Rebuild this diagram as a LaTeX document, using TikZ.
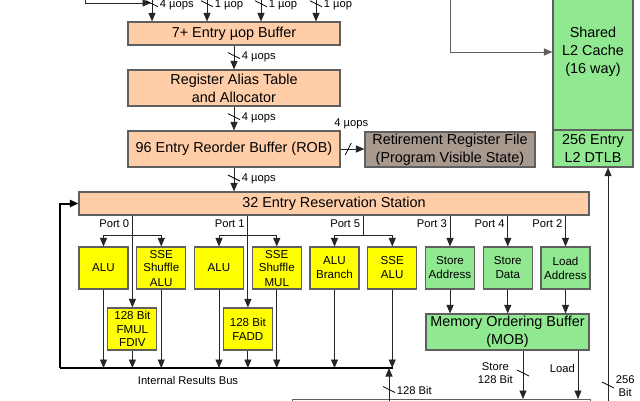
\documentclass[tikz,border=0pt]{standalone}
\usepackage{fontspec}
\setmainfont{Liberation Sans}
\usetikzlibrary{arrows.meta,calc}

\definecolor{peach}{RGB}{255,206,168}
\definecolor{unityellow}{RGB}{255,255,0}
\definecolor{memgreen}{RGB}{144,232,144}
\definecolor{retiregray}{RGB}{168,153,143}
\definecolor{edgegray}{RGB}{95,95,95}

\newcommand{\bigtxt}{\fontsize{14.4}{18}\selectfont}
\newcommand{\midtxt}{\fontsize{11.6}{14}\selectfont}
\newcommand{\smalltxt}{\fontsize{11.2}{13}\selectfont}
% slash mark across a bundle of wires, with its width
\newcommand{\wirecount}[2]{\draw[tick] ([shift={(-6,-3)}]#1) -- ([shift={(6,3)}]#1) node[wirelabel] {#2};}

\tikzset{
  block/.style={draw=edgegray, line width=1.1pt, inner sep=0pt, align=center},
  frontbox/.style={block, fill=peach, minimum width=212pt, font=\bigtxt},
  execbox/.style={block, fill=unityellow, minimum width=49pt, minimum height=42pt, font=\midtxt},
  memunit/.style={block, fill=memgreen, minimum width=49pt, minimum height=42pt, font=\midtxt},
  link/.style={draw=black!85, line width=0.9pt, ->},
  plain/.style={draw=black!85, line width=0.9pt},
  feed/.style={draw=edgegray, line width=1pt, ->},
  busline/.style={draw=black, line width=2pt},
  tick/.style={draw=black, line width=0.8pt},
  wirelabel/.style={anchor=west, yshift=2pt, inner sep=1.5pt, align=center, font=\smalltxt},
  portlabel/.style={anchor=east, xshift=-2pt, inner sep=1pt, font=\smalltxt}
}

\begin{document}
\begin{tikzpicture}[x=1pt, y=-1pt, >={Triangle[length=8.5pt,width=7pt]}]
  \useasboundingbox (0,0) rectangle (640,400);
  \clip (0,0) rectangle (640,400);

  % front end
  \node[frontbox, minimum height=23pt] (uopbuf) at (234,33.5) {7+ Entry µop Buffer};
  \node[frontbox, minimum height=36pt] (rat) at (234,88) {Register Alias Table\\and Allocator};
  \node[frontbox, minimum height=36pt] (rob) at (234,149) {96 Entry Reorder Buffer (ROB)};
  \node[block, fill=retiregray, minimum width=170pt, minimum height=35pt, font=\bigtxt] (rrf) at (450,149.5) {Retirement Register File\\(Program Visible State)};
  \node[block, fill=peach, minimum width=510pt, minimum height=23pt, font=\bigtxt] (rs) at (334,203.5) {32 Entry Reservation Station};

  % L2
  \node[block, fill=memgreen, minimum width=80pt, minimum height=156pt, font=\bigtxt] (l2) at (593,52) {Shared\\L2 Cache\\(16 way)};
  \node[block, fill=memgreen, minimum width=80pt, minimum height=37pt, font=\bigtxt] (dtlb) at (593,148.5) {256 Entry\\L2 DTLB};

  % execution units
  \node[execbox] (alu0) at (103.5,268) {ALU};
  \node[execbox] (shufalu) at (161.25,268) {SSE\\Shuffle\\ALU};
  \node[execbox] (alu1) at (219,268) {ALU};
  \node[execbox] (shufmul) at (276.75,268) {SSE\\Shuffle\\MUL};
  \node[execbox] (alubr) at (334.5,268) {ALU\\Branch};
  \node[execbox] (ssealu) at (392.25,268) {SSE\\ALU};
  \node[memunit] (staddr) at (450,268) {Store\\Address};
  \node[memunit] (stdata) at (507.75,268) {Store\\Data};
  \node[memunit] (ldaddr) at (565.5,268) {Load\\Address};
  \node[execbox, font=\fontsize{11.6}{13.5}\selectfont] (fmul) at (132.4,329) {128 Bit\\FMUL\\FDIV};
  \node[execbox] (fadd) at (247.9,329) {128 Bit\\FADD};
  \node[block, fill=memgreen, minimum width=163pt, minimum height=36pt, font=\bigtxt] (mob) at (507.5,332) {Memory Ordering Buffer\\(MOB)};
  \node[block, fill=white, minimum width=298pt, minimum height=30pt, anchor=north west] (dcache) at (292,399) {};

  % incoming uops
  \coordinate (dec0) at (152,-8);
  \coordinate (dec1) at (207,-8);
  \coordinate (dec2) at (261,-8);
  \coordinate (dec3) at (316,-8);
  \coordinate (loopin) at (85,-8);
  \coordinate (merge) at (151,3);
  \draw[link] (loopin) |- (merge);
  \draw[link] (dec0) -- coordinate[pos=.4] (w0) (dec0 |- uopbuf.north);
  \draw[link] (dec1) -- coordinate[pos=.4] (w1) (dec1 |- uopbuf.north);
  \draw[link] (dec2) -- coordinate[pos=.4] (w2) (dec2 |- uopbuf.north);
  \draw[link] (dec3) -- coordinate[pos=.4] (w3) (dec3 |- uopbuf.north);
  \wirecount{w0}{4 µops}
  \wirecount{w1}{1 µop}
  \wirecount{w2}{1 µop}
  \wirecount{w3}{1 µop}

  % down the pipeline
  \draw[link] (uopbuf.south) -- coordinate[pos=.42] (w4) (rat.north);
  \draw[link] (rat.south) -- coordinate[pos=.42] (w5) (rob.north);
  \draw[link] (rob.south) -- coordinate[pos=.44] (w6) (rob.south |- rs.north);
  \wirecount{w4}{4 µops}
  \wirecount{w5}{4 µops}
  \wirecount{w6}{4 µops}

  % retirement
  \draw[link] (rob.east) -- coordinate[pos=.32] (wr) (rob.east -| rrf.west);
  \draw[tick] ([shift={(-3,6)}]wr) -- ([shift={(3,-6)}]wr);
  \node[font=\smalltxt] (retcount) at ([shift={(3,-25)}]wr) {4 µops};

  % L2 feed
  \coordinate (l2feed) at (450,-8);
  \draw[feed] (l2feed) |- (l2.west);

  % ports
  \coordinate (fork) at (0,235);
  \coordinate (portrow) at (0,224);
  \draw[link] (fmul.north |- rs.south) -- (fmul.north);
  \draw[link] (fmul.north |- fork) -| (alu0.north);
  \draw[link] (fmul.north |- fork) -| (shufalu.north);
  \node[portlabel] at (fmul.north |- portrow) {Port 0};
  \draw[link] (fadd.north |- rs.south) -- (fadd.north);
  \draw[link] (fadd.north |- fork) -| (alu1.north);
  \draw[link] (fadd.north |- fork) -| (shufmul.north);
  \node[portlabel] at (fadd.north |- portrow) {Port 1};
  \coordinate (p5) at ($(alubr.north)!.5!(ssealu.north)$);
  \draw[plain] (p5 |- rs.south) -- (p5 |- fork);
  \draw[link] (p5 |- fork) -| (alubr.north);
  \draw[link] (p5 |- fork) -| (ssealu.north);
  \node[portlabel] at (p5 |- portrow) {Port 5};
  \draw[link] (staddr.north |- rs.south) -- (staddr.north);
  \node[portlabel] at (staddr.north |- portrow) {Port 3};
  \draw[link] (stdata.north |- rs.south) -- (stdata.north);
  \node[portlabel] at (stdata.north |- portrow) {Port 4};
  \draw[link] (ldaddr.north |- rs.south) -- (ldaddr.north);
  \node[portlabel] at (ldaddr.north |- portrow) {Port 2};

  % results bus
  \coordinate (bus) at (0,368);
  \coordinate (busL) at (60,368);
  \coordinate (busR) at (393,368);
  \draw[link] (alu0.south) -- (alu0.south |- bus);
  \draw[link] (fmul.south) -- (fmul.south |- bus);
  \draw[link] (shufalu.south) -- (shufalu.south |- bus);
  \draw[link] (alu1.south) -- (alu1.south |- bus);
  \draw[link] (fadd.south) -- (fadd.south |- bus);
  \draw[link] (shufmul.south) -- (shufmul.south |- bus);
  \draw[link] (alubr.south) -- (alubr.south |- bus);
  \draw[link] (ssealu.south) -- (ssealu.south |- bus);
  \draw[busline] (busL) -- (busR);
  \draw[busline, ->] (busL) |- (rs.west);
  \node[font=\smalltxt] (buslabel) at (188,380) {Internal Results Bus};
  \coordinate (l1bus) at (389,410);
  \draw[link] (l1bus) -- (l1bus |- bus);
  \wirecount{389,389.5}{128 Bit}

  % memory side
  \draw[link] (staddr.south) -- (staddr.south |- mob.north);
  \draw[link] (stdata.south) -- (stdata.south |- mob.north);
  \draw[link] (ldaddr.south) -- (ldaddr.south |- mob.north);
  \coordinate (stport) at (523,0);
  \coordinate (ldport) at (578,0);
  \draw[link] (stport |- mob.south) -- (stport |- dcache.north);
  \draw[link] (ldport |- mob.south) -- (ldport |- dcache.north);
  \coordinate (wst) at (523,373);
  \draw[tick] ([shift={(-6,-3)}]wst) -- ([shift={(6,3)}]wst);
  \node[font=\smalltxt, align=center, anchor=east, inner sep=1pt] at ([xshift=-9pt]wst) {Store\\128 Bit};
  \node[font=\smalltxt, anchor=east, inner sep=1pt] at (576,368) {Load};
  \coordinate (tlbfeed) at (608,410);
  \draw[link] (tlbfeed) -- (tlbfeed |- dtlb.south);
  \wirecount{608,385}{256\\Bit}
\end{tikzpicture}
\end{document}
